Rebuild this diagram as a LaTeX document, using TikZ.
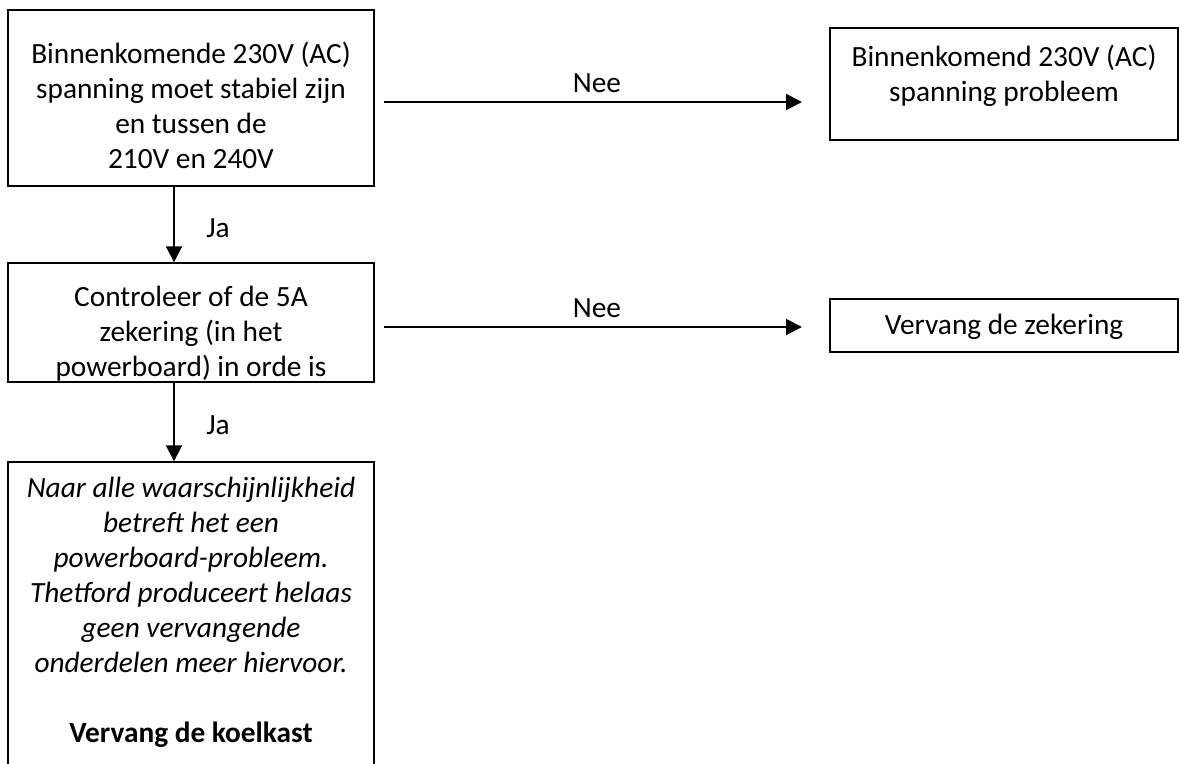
\documentclass[tikz,border=0pt]{standalone}
\usepackage{fontspec}
\setmainfont{Carlito}
\usetikzlibrary{arrows.meta}
\begin{document}
\begin{tikzpicture}[x=0.75pt,y=-0.75pt,
  box/.style={draw=black,line width=1.1pt,inner sep=0pt},
  txt/.style={inner sep=0pt,align=center,font=\fontsize{22}{26.25}\selectfont},
  conn/.style={line width=1.5pt,-{Triangle[length=12pt,width=12pt]}},
  lbl/.style={inner sep=0pt,font=\fontsize{22}{26.25}\selectfont}]
\useasboundingbox (0,0) rectangle (1179,764);
\clip (0,0) rectangle (1179,764);
% boxes
\node[box,minimum width=366*0.75pt,minimum height=176*0.75pt] (b1) at (191,98) {};
\node[box,minimum width=366*0.75pt,minimum height=119*0.75pt] (b2) at (191,322.5) {};
\node[box,minimum width=348*0.75pt,minimum height=112*0.75pt] (b3) at (1004,84) {};
\node[box,minimum width=348*0.75pt,minimum height=53*0.75pt] (b4) at (1004,325.5) {};
\node[box,minimum width=366*0.75pt,minimum height=320*0.75pt] (b5) at (191,622) {};
% texts
\node[txt] (t1) at (191,105) {Binnenkomende 230V (AC)\\spanning moet stabiel zijn\\en tussen de\\210V en 240V};
\node[txt] (t2) at (191,334) {Controleer of de 5A\\zekering (in het\\powerboard) in orde is};
\node[txt] (t3) at (1004,76) {Binnenkomend 230V (AC)\\spanning probleem};
\node[txt] (t4) at (1004,327) {Vervang de zekering};
\node[txt] (t5) at (191,612) {\itshape Naar alle waarschijnlijkheid\\\itshape betreft het een\\\itshape powerboard-probleem.\\\itshape Thetford produceert helaas\\\itshape geen vervangende\\\itshape onderdelen meer hiervoor.\\[26.25pt]\bfseries Vervang de koelkast};
% connectors
\coordinate (n1s) at (384,102);
\coordinate (n1e) at (802,102);
\coordinate (n2s) at (384,327);
\coordinate (n2e) at (802,327);
\draw[conn] (b1.south -| 174,0) -- (b2.north -| 174,0);
\draw[conn] (b2.south -| 174,0) -- (b5.north -| 174,0);
\draw[conn] (n1s) -- (n1e);
\draw[conn] (n2s) -- (n2e);
% labels
\node[lbl] (ja1) at (218,228) {Ja};
\node[lbl] (ja2) at (218,425) {Ja};
\node[lbl] (nee1) at (597,83) {Nee};
\node[lbl] (nee2) at (597,308) {Nee};
\end{tikzpicture}
\end{document}
